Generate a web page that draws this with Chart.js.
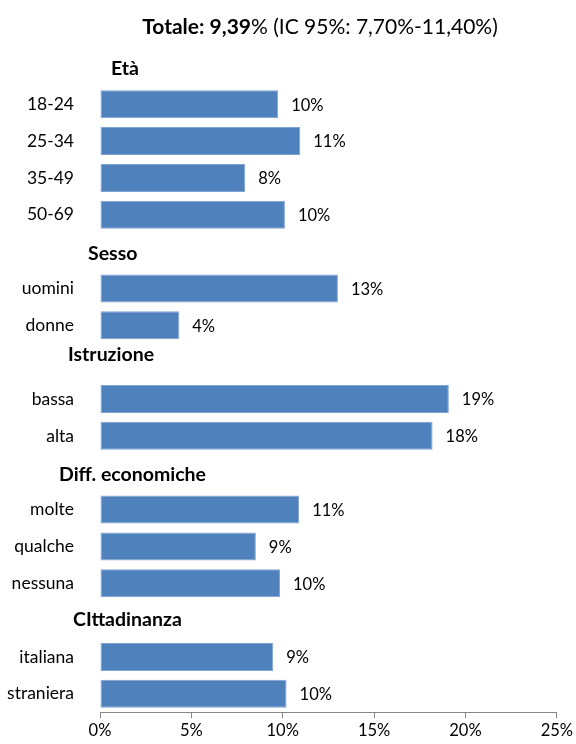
<!DOCTYPE html>
<html lang="it">
<head>
<meta charset="UTF-8">
<title>Totale 9,39%</title>
<script src="https://cdn.jsdelivr.net/npm/chart.js"></script>
<style>
  body { margin: 0; background: #ffffff; }
  #wrap { width: 576px; height: 744px; }
</style>
</head>
<body>
<div id="wrap"><canvas id="chart" width="576" height="744"></canvas></div>
<script>
// rows of the chart, '' = group header row
const categories = ['', '18-24', '25-34', '35-49', '50-69',
                    '', 'uomini', 'donne',
                    '', 'bassa', 'alta',
                    '', 'molte', 'qualche', 'nessuna',
                    '', 'italiana', 'straniera'];
const values = [null, 9.75, 10.96, 7.95, 10.12,
                null, 13.02, 4.34,
                null, 19.09, 18.2,
                null, 10.9, 8.53, 9.85,
                null, 9.48, 10.21];
const groupTitles = ['Età', 'Sesso', 'Istruzione', 'Diff. economiche', 'CIttadinanza'];
const xTicks = [0, 5, 10, 15, 20, 25];

const FONT = 'Lato, "Open Sans", sans-serif';

// group headers + value labels + title
const extras = {
  id: 'extras',
  afterDatasetsDraw(chart) {
    const ctx = chart.ctx;
    const y = chart.scales.y;
    const meta = chart.getDatasetMeta(0);
    ctx.save();
    ctx.fillStyle = '#000';
    ctx.textBaseline = 'middle';

    // value labels
    ctx.font = '16.5px ' + FONT;
    ctx.textAlign = 'left';
    meta.data.forEach((bar, i) => {
      if (values[i] == null) return;
      ctx.fillText(Math.round(values[i]) + '%', bar.x + 13, bar.y + 1);
    });

    // group headers
    const headerX = [111, 88, 68, 59, 73];
    const headerDy = [1, 2, -7, 2, 0];
    ctx.font = 'bold 19.5px ' + FONT;
    let g = 0;
    categories.forEach((c, i) => {
      if (c !== '') return;
      ctx.fillText(groupTitles[g], headerX[g], y.getPixelForValue(i) + headerDy[g]);
      g++;
    });

    // title with bold part
    const bold = 'Totale: 9,39';
    const rest = '% (IC 95%: 7,70%-11,40%)';
    ctx.font = 'bold 21px ' + FONT;
    const wb = ctx.measureText(bold).width;
    ctx.font = '21px ' + FONT;
    const wr = ctx.measureText(rest).width;
    let x0 = 320 - (wb + wr) / 2;
    ctx.font = 'bold 21px ' + FONT;
    ctx.fillText(bold, x0, 27);
    ctx.font = '21px ' + FONT;
    ctx.fillText(rest, x0 + wb, 27);
    ctx.restore();
  }
};

new Chart(document.getElementById('chart'), {
  type: 'bar',
  data: {
    labels: categories,
    datasets: [{
      data: values,
      backgroundColor: '#4F81BD',
      borderColor: '#7fa3d3',
      borderWidth: 1,
      borderSkipped: false,
      barPercentage: 0.76,
      categoryPercentage: 1
    }]
  },
  options: {
    indexAxis: 'y',
    responsive: false,
    animation: false,
    layout: { padding: { top: 49, right: 19, left: 0, bottom: 0 } },
    plugins: {
      legend: { display: false },
      tooltip: { enabled: false },
      title: { display: false }
    },
    scales: {
      x: {
        min: 0,
        max: 25,
        afterBuildTicks(axis) { axis.ticks = xTicks.map(v => ({ value: v })); },
        grid: { drawOnChartArea: false, drawTicks: true, tickLength: 6, color: '#868686' },
        border: { display: true, color: '#868686', width: 1 },
        ticks: {
          padding: 3,
          color: '#000',
          font: { family: FONT, size: 16.5 },
          callback: v => v + '%'
        }
      },
      y: {
        afterFit(axis) { axis.width = 100; },
        grid: { display: false },
        border: { display: false },
        ticks: {
          padding: 18,
          color: '#000',
          autoSkip: false,
          font: { family: FONT, size: 17.5 }
        }
      }
    }
  },
  plugins: [extras]
});
</script>
</body>
</html>
